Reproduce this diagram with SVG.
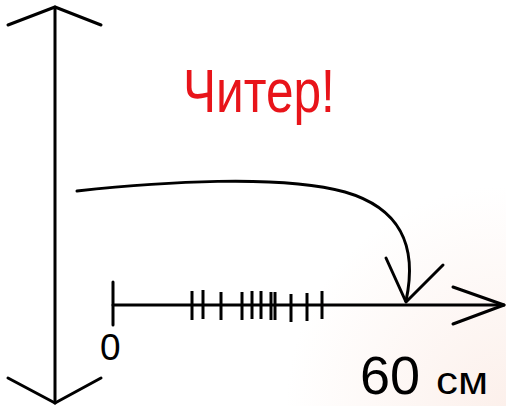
<svg xmlns="http://www.w3.org/2000/svg" width="506" height="406" viewBox="0 0 506 406">
  <defs>
    <radialGradient id="bg" cx="506" cy="406" r="220" gradientUnits="userSpaceOnUse">
      <stop offset="0" stop-color="#fcf0eb"/>
      <stop offset="1" stop-color="#ffffff"/>
    </radialGradient>
    <style>
      .ln { fill: none; stroke: #000; stroke-width: 3; stroke-linecap: round; stroke-linejoin: round; }
      .tk { stroke: #000; stroke-width: 3; }
      .txt { font-family: "Liberation Sans", "DejaVu Sans", sans-serif; fill: #000; }
      .red { font-family: "Liberation Sans", "DejaVu Sans", sans-serif; fill: #e8141a; }
    </style>
  </defs>
  <rect width="506" height="406" fill="url(#bg)"/>

  <g id="vertical-axis">
    <path class="ln" d="M55,7 L55,403"/>
    <path class="ln" d="M8,25 L55,7 L101,25"/>
    <path class="ln" d="M8,378 L55,403 L101,378"/>
  </g>

  <g id="horizontal-axis">
    <path class="ln" d="M113,305 L504,305"/>
    <path class="ln" d="M453,287 L504,305 L453,324"/>
    <path class="ln" d="M113,282 L113,325"/>
    <g id="ticks">
      <line class="tk" x1="192" y1="291" x2="192" y2="320"/>
      <line class="tk" x1="203" y1="290" x2="203" y2="319"/>
      <line class="tk" x1="221" y1="292" x2="221" y2="320"/>
      <line class="tk" x1="242" y1="292" x2="242" y2="320"/>
      <line class="tk" x1="252" y1="291" x2="252" y2="319"/>
      <line class="tk" x1="261" y1="291" x2="261" y2="319"/>
      <line class="tk" x1="271" y1="292" x2="271" y2="320"/>
      <line class="tk" x1="275" y1="292" x2="275" y2="320"/>
      <line class="tk" x1="291" y1="294" x2="291" y2="322"/>
      <line class="tk" x1="307" y1="293" x2="307" y2="321"/>
      <line class="tk" x1="322" y1="291" x2="322" y2="319"/>
    </g>
  </g>

  <g id="connectors">
    <path class="ln" d="M77,191 C160,182 280,174 345,192 C400,208 418,245 406,301"/>
    <path class="ln" d="M386,258 L406,302 L443,265"/>
  </g>

  <g id="label-cheater">
    <text class="red" transform="translate(183,112) scale(0.8,1)" x="0" y="0" font-size="62">Читер!</text>
  </g>

  <g id="label-zero">
    <text class="txt" x="100" y="360" font-size="37">0</text>
  </g>

  <g id="label-60cm">
    <text class="txt" x="360" y="394" font-size="54">60</text>
    <text class="txt" x="436" y="394" font-size="38" textLength="52" lengthAdjust="spacingAndGlyphs">см</text>
  </g>
</svg>
